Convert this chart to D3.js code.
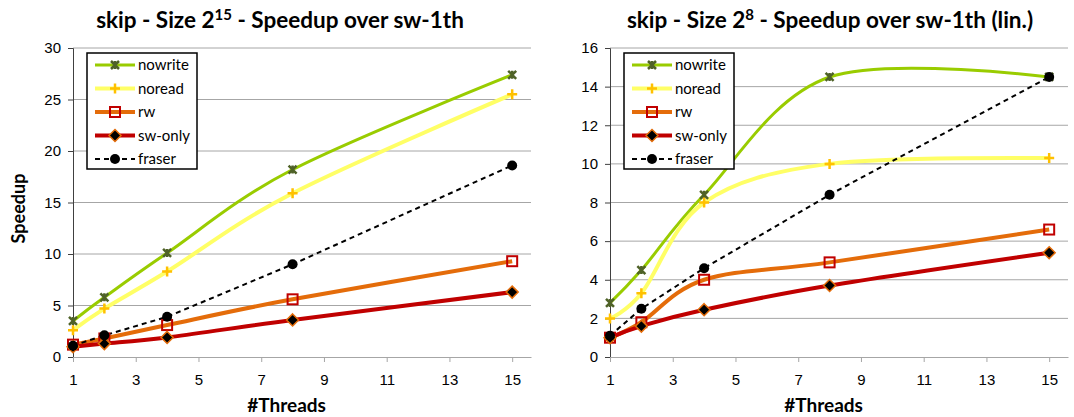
<!DOCTYPE html>
<html>
<head>
<meta charset="utf-8">
<script src="https://cdn.jsdelivr.net/npm/d3@7"></script>
<style>
  body { margin: 0; background: #fff; }
  svg { font-family: Lato, 'Open Sans', sans-serif; }
</style>
</head>
<body>
<div id="chart"></div>
<script>
const threads = [1, 2, 4, 8, 15];
const xTicks = [1, 3, 5, 7, 9, 11, 13, 15];

// size 2^15
const left_nowrite = [3.5, 5.8, 10.1, 18.2, 27.4];
const left_noread = [2.6, 4.7, 8.3, 15.9, 25.5];
const left_rw = [1.2, 1.8, 3.1, 5.6, 9.3];
const left_swonly = [1.0, 1.3, 1.9, 3.6, 6.3];
const left_fraser = [1.1, 2.1, 3.9, 9.0, 18.6];
const leftYTicks = [0, 5, 10, 15, 20, 25, 30];

// size 2^8
const right_nowrite = [2.8, 4.5, 8.4, 14.5, 14.5];
const right_noread = [2.0, 3.3, 8.0, 10.0, 10.3];
const right_rw = [1.0, 1.8, 4.0, 4.9, 6.6];
const right_swonly = [1.0, 1.6, 2.45, 3.7, 5.4];
const right_fraser = [1.1, 2.5, 4.6, 8.4, 14.5];
const rightYTicks = [0, 2, 4, 6, 8, 10, 12, 14, 16];

const seriesNames = ['nowrite', 'noread', 'rw', 'sw-only', 'fraser'];

const styles = {
  'nowrite': { line: '#99cc00', width: 3, marker: 'star', mcolor: '#4f6228', smooth: true },
  'noread': { line: '#ffff66', width: 4, marker: 'plus', mcolor: '#ffc000', smooth: true },
  'rw': { line: '#e46c0a', width: 4, marker: 'square', mcolor: '#c00000', smooth: true },
  'sw-only': { line: '#c00000', width: 4, marker: 'diamond', mcolor: '#e46c0a', smooth: true },
  'fraser': { line: '#000', width: 2, marker: 'circle', mcolor: '#000', smooth: false, dash: '5,4' }
};

const W = 1074, H = 417;
const svg = d3.select('#chart').append('svg').attr('width', W).attr('height', H);

function drawMarker(g, type, color, x, y) {
  if (type === 'star') {
    g.append('path')
      .attr('d', `M${x-4},${y-4}L${x+4},${y+4}M${x-4},${y+4}L${x+4},${y-4}M${x},${y-4}L${x},${y+4}`)
      .attr('stroke', color).attr('stroke-width', 2.5);
  } else if (type === 'plus') {
    g.append('path').attr('d', `M${x-5},${y}L${x+5},${y}M${x},${y-5}L${x},${y+5}`)
      .attr('stroke', color).attr('stroke-width', 2.5);
  } else if (type === 'square') {
    g.append('rect').attr('x', x - 5).attr('y', y - 5).attr('width', 10).attr('height', 10)
      .attr('fill', 'none').attr('stroke', color).attr('stroke-width', 2);
  } else if (type === 'diamond') {
    g.append('path').attr('d', `M${x},${y-6}L${x+6},${y}L${x},${y+6}L${x-6},${y}Z`)
      .attr('fill', '#000').attr('stroke', color).attr('stroke-width', 1.5);
  } else if (type === 'circle') {
    g.append('circle').attr('cx', x).attr('cy', y).attr('r', 5).attr('fill', '#000');
  }
}

function drawChart(opt) {
  const x = d3.scaleLinear().domain([1, 15.6]).range([opt.left, opt.right]);
  const y = d3.scaleLinear().domain([0, opt.yMax]).range([357, 48]);
  const g = svg.append('g');

  // gridlines
  g.append('g').selectAll('line').data(opt.yTicks.filter(d => d > 0)).join('line')
    .attr('x1', opt.left).attr('x2', opt.right)
    .attr('y1', d => y(d)).attr('y2', d => y(d))
    .attr('stroke', '#a6a6a6').attr('stroke-width', 1);

  // axes
  const yAxis = d3.axisLeft(y).tickValues(opt.yTicks).tickSize(5).tickPadding(7);
  const yg = g.append('g').attr('transform', `translate(${opt.left},0)`).call(yAxis);
  yg.select('.domain').attr('stroke', '#404040');
  yg.selectAll('.tick line').attr('stroke', '#404040');
  yg.selectAll('text').attr('font-size', 15).attr('fill', '#000');

  const xAxis = d3.axisBottom(x).tickValues(xTicks).tickSize(5).tickPadding(12).tickSizeOuter(0);
  const xg = g.append('g').attr('transform', 'translate(0,357)').call(xAxis);
  xg.select('.domain').attr('stroke', '#a6a6a6');
  xg.selectAll('.tick line').attr('stroke', '#a6a6a6');
  xg.selectAll('text').attr('font-size', 15).attr('fill', '#000');

  g.append('text').attr('x', (opt.left + x(15)) / 2 - 6).attr('y', 412)
    .attr('text-anchor', 'middle').attr('font-size', 19).attr('font-weight', 'bold')
    .text('#Threads');

  if (opt.yLabel) {
    g.append('text').attr('transform', `translate(25,${y(opt.yMax / 2) + 6}) rotate(-90)`)
      .attr('text-anchor', 'middle').attr('font-size', 18).attr('font-weight', 'bold')
      .text(opt.yLabel);
  }

  // title
  const t = g.append('text').attr('x', opt.titleX).attr('y', 28)
    .attr('text-anchor', 'middle').attr('font-size', 22.5).attr('font-weight', 'bold');
  t.append('tspan').text('skip - Size 2');
  t.append('tspan').attr('dy', -8).attr('font-size', 15).text(opt.exp);
  t.append('tspan').attr('dy', 8).text(opt.titleRest);

  // series
  seriesNames.forEach((name, si) => {
    const st = styles[name];
    const vals = opt.data[si];
    const pts = threads.map((t, i) => [x(t), y(vals[i])]);
    const line = d3.line().curve(st.smooth ? d3.curveCatmullRom.alpha(0) : d3.curveLinear);
    g.append('path').attr('d', line(pts)).attr('fill', 'none')
      .attr('stroke', st.line).attr('stroke-width', st.width)
      .attr('stroke-dasharray', st.dash || null);
  });
  seriesNames.forEach((name, si) => {
    const st = styles[name];
    const vals = opt.data[si];
    const mg = g.append('g').attr('fill', 'none');
    threads.forEach((t, i) => drawMarker(mg, st.marker, st.mcolor, x(t), y(vals[i])));
  });

  // legend
  const lx = opt.left + 14, ly = 53;
  const lg = g.append('g').attr('transform', `translate(${lx},${ly})`);
  lg.append('rect').attr('width', 110).attr('height', 116)
    .attr('fill', '#fff').attr('stroke', '#000').attr('stroke-width', 1.5);
  seriesNames.forEach((name, i) => {
    const st = styles[name];
    const cy = 12 + i * 23.5;
    lg.append('line').attr('x1', 8).attr('x2', 48).attr('y1', cy).attr('y2', cy)
      .attr('stroke', st.line).attr('stroke-width', st.width)
      .attr('stroke-dasharray', st.dash || null);
    drawMarker(lg, st.marker, st.mcolor, 28, cy);
    lg.append('text').attr('x', 51).attr('y', cy + 5).attr('font-size', 15).text(name);
  });
}

drawChart({
  left: 73, right: 531, yMax: 30, yTicks: leftYTicks, yLabel: 'Speedup',
  titleX: 280, exp: '15', titleRest: ' - Speedup over sw-1th',
  data: [left_nowrite, left_noread, left_rw, left_swonly, left_fraser]
});
drawChart({
  left: 610, right: 1068, yMax: 16, yTicks: rightYTicks, yLabel: null,
  titleX: 830, exp: '8', titleRest: ' - Speedup over sw-1th (lin.)',
  data: [right_nowrite, right_noread, right_rw, right_swonly, right_fraser]
});
</script>
</body>
</html>
